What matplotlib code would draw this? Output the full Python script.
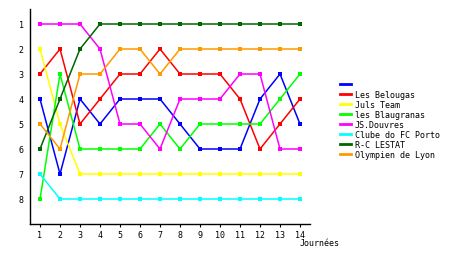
import matplotlib
matplotlib.use("Agg")
import matplotlib.pyplot as plt

journees = list(range(1, 15))
teams = ["", "Les Belougas", "Juls Team", "les Blaugranas", "JS.Douvres",
         "Clube do FC Porto", "R-C LESTAT", "Olympien de Lyon"]
colors = ["#0000ff", "#ff0000", "#ffff00", "#00ff00", "#ff00ff",
          "#00ffff", "#006600", "#ff9900"]
rank_blue = [4, 7, 4, 5, 4, 4, 4, 5, 6, 6, 6, 4, 3, 5]
rank_belougas = [3, 2, 5, 4, 3, 3, 2, 3, 3, 3, 4, 6, 5, 4]
rank_juls = [2, 5, 7, 7, 7, 7, 7, 7, 7, 7, 7, 7, 7, 7]
rank_blaugranas = [8, 3, 6, 6, 6, 6, 5, 6, 5, 5, 5, 5, 4, 3]
rank_douvres = [1, 1, 1, 2, 5, 5, 6, 4, 4, 4, 3, 3, 6, 6]
rank_porto = [7, 8, 8, 8, 8, 8, 8, 8, 8, 8, 8, 8, 8, 8]
rank_lestat = [6, 4, 2, 1, 1, 1, 1, 1, 1, 1, 1, 1, 1, 1]
rank_lyon = [5, 6, 3, 3, 2, 2, 3, 2, 2, 2, 2, 2, 2, 2]
series = [rank_blue, rank_belougas, rank_juls, rank_blaugranas,
          rank_douvres, rank_porto, rank_lestat, rank_lyon]
yticks = [1, 2, 3, 4, 5, 6, 7, 8]

plt.rcParams['font.family'] = ['DejaVu Sans Mono']
W, H = 460, 255
fig = plt.figure(figsize=(W / 100, H / 100), dpi=100)
ax = fig.add_axes([30 / W, 1 - 225 / H, 280 / W, 215 / H])

for name, col, vals in zip(teams, colors, series):
    ax.plot(journees, vals, color=col, lw=1.1, marker='s', markersize=2.2,
            markeredgewidth=0, label=name if name else " ")

ax.set_xlim(0.5, 14.5)
ax.set_ylim(9, 0.4)
ax.set_xticks(journees)
ax.set_yticks(yticks)
ax.tick_params(axis='both', labelsize=6, length=2, width=0.8, pad=2)
ax.tick_params(axis='y', length=0, pad=4.5)
for s in ['top', 'right']:
    ax.spines[s].set_visible(False)
for s in ['left', 'bottom']:
    ax.spines[s].set_linewidth(1.0)
fig.text(300 / W, 1 - 244 / H, "Journées", fontsize=6, va='center', ha='left')

leg = ax.legend(loc='upper left', bbox_to_anchor=(340 / W, 1 - 81 / H),
                bbox_transform=fig.transFigure, frameon=False, fontsize=6,
                handlelength=1.3, handletextpad=0.5, labelspacing=0.12,
                borderaxespad=0, borderpad=0)
for h in leg.get_lines():
    h.set_linewidth(2)
    h.set_marker('')

fig.savefig("out.png", dpi=100)
